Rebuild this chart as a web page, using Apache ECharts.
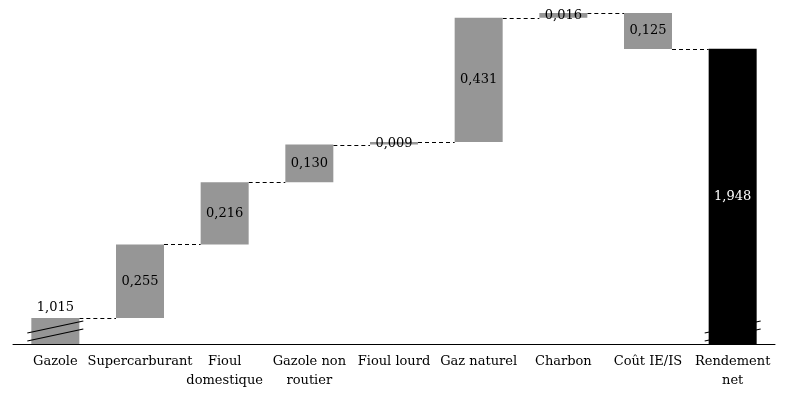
<!DOCTYPE html>
<html>
<head>
<meta charset="utf-8">
<script src="https://cdn.jsdelivr.net/npm/echarts@6/dist/echarts.min.js"></script>
<style>
  html, body { margin: 0; padding: 0; background: #fff; }
  #chart { width: 787px; height: 399px; }
</style>
</head>
<body>
<div id="chart"></div>
<script>
// ── Data ───────────────────────────────────────────────
const categories = ['Gazole', 'Supercarburant', 'Fioul\ndomestique', 'Gazole non\nroutier',
                    'Fioul lourd', 'Gaz naturel', 'Charbon', 'Coût IE/IS', 'Rendement\nnet'];
// signed steps (the first one is the starting value, the last is the total)
const steps = [1.015, 0.255, 0.216, 0.130, 0.009, 0.431, 0.016, -0.125];
const total = 1.948;

// ── Config ─────────────────────────────────────────────
const Y_MIN     = 0.925;   // broken axis: the bottom is not zero
const Y_MAX     = 2.086;
const BREAK_AT  = 0.97;
const BAR_W     = 48;
const FONT      = "'DejaVu Serif', 'Liberation Serif', serif";
const GREY      = '#969696';

// ── Build waterfall ────────────────────────────────────
const bases = [], heights = [], levels = [];
let run = 0;
steps.forEach((s, i) => {
  if (i === 0) { bases.push(0); heights.push(s); }
  else if (s >= 0) { bases.push(run); heights.push(s); }
  else { bases.push(run + s); heights.push(-s); }
  run += s;
  levels.push([i, run]);   // connector level after each step
});
bases.push(0);
heights.push(total);

const fmt = v => v.toFixed(3).replace('.', ',');

const barData = heights.map((h, i) => {
  const isTotal = i === categories.length - 1;
  return {
    value: h,
    itemStyle: { color: isTotal ? '#000' : GREY },
    label: i === 0
      ? { position: 'top', distance: 4 }
      : isTotal ? { color: '#fff' } : {},
  };
});

const myChart = echarts.init(document.getElementById('chart'));

myChart.setOption({
  backgroundColor: '#fff',
  animation: false,
  grid: { left: 13, right: 12, top: 9, bottom: 55, containLabel: false },

  xAxis: {
    type: 'category',
    data: categories,
    axisTick:  { show: false },
    axisLine:  { lineStyle: { color: '#000', width: 1 } },
    axisLabel: {
      interval: 0,
      margin: 8,
      fontFamily: FONT,
      fontSize: 13,
      lineHeight: 19,
      color: '#000',
    },
  },

  yAxis: {
    type: 'value',
    min: Y_MIN,
    max: Y_MAX,
    show: false,
    splitLine: { show: false },
  },

  series: [
    {
      type: 'bar',
      stack: 'w',
      data: bases,
      barWidth: BAR_W,
      itemStyle: { color: 'transparent' },
      emphasis: { disabled: true },
      silent: true,
    },
    {
      type: 'bar',
      stack: 'w',
      data: barData,
      barWidth: BAR_W,
      label: {
        show: true,
        position: 'inside',
        fontFamily: FONT,
        fontSize: 13,
        color: '#000',
        formatter: p => fmt(p.value),
      },
      emphasis: { disabled: true },
    },
    {
      // dashed connectors between consecutive bars
      type: 'custom',
      data: levels,
      silent: true,
      z: 1,
      renderItem: (params, api) => {
        const p = api.coord([api.value(0), api.value(1)]);
        const step = api.size([1, 0])[0];
        const y = Math.round(p[1]) + 0.5;
        return {
          type: 'line',
          shape: { x1: p[0] + BAR_W / 2, y1: y, x2: p[0] + step - BAR_W / 2, y2: y },
          style: { stroke: '#000', lineWidth: 1, lineDash: [4, 3] },
        };
      },
    },
    {
      // axis-break marks on the first and last bars
      type: 'custom',
      data: [[0, BREAK_AT], [categories.length - 1, BREAK_AT]],
      silent: true,
      z: 5,
      clip: false,
      renderItem: (params, api) => {
        const p = api.coord([api.value(0), api.value(1)]);
        const mk = dy => ({
          type: 'line',
          shape: { x1: p[0] - 28, y1: p[1] + 6 + dy, x2: p[0] + 28, y2: p[1] - 6 + dy },
          style: { stroke: '#000', lineWidth: 1.2 },
        });
        return { type: 'group', children: [mk(-4), mk(4)] };
      },
    },
  ],
});
</script>
</body>
</html>
